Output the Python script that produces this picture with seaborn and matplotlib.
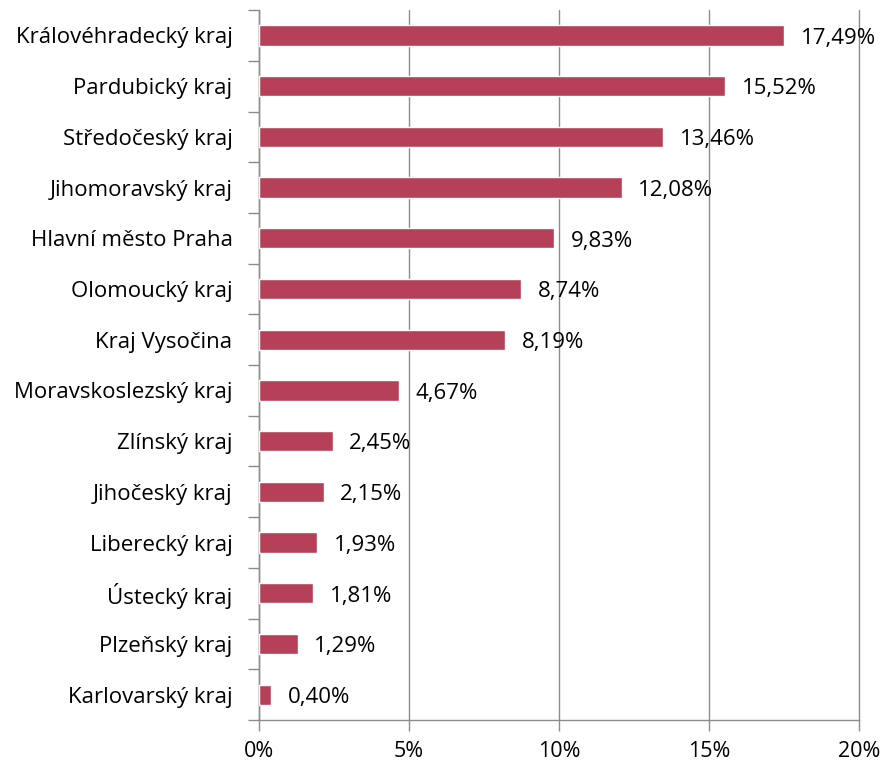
import numpy as np
import pandas as pd
import seaborn as sns
import matplotlib.pyplot as plt
from matplotlib.ticker import FixedLocator, FuncFormatter

regions = [
    "Královéhradecký kraj", "Pardubický kraj", "Středočeský kraj", "Jihomoravský kraj",
    "Hlavní město Praha", "Olomoucký kraj", "Kraj Vysočina", "Moravskoslezský kraj",
    "Zlínský kraj", "Jihočeský kraj", "Liberecký kraj", "Ústecký kraj",
    "Plzeňský kraj", "Karlovarský kraj",
]
shares = [17.49, 15.52, 13.46, 12.08, 9.83, 8.74, 8.19, 4.67, 2.45, 2.15, 1.93, 1.81, 1.29, 0.40]
x_ticks = [0, 5, 10, 15, 20]

df = pd.DataFrame({"region": regions, "share": shares})

sns.set_style("white")
plt.rcParams["font.family"] = ["Open Sans", "DejaVu Sans"]

fig = plt.figure(figsize=(8.84, 7.65), dpi=100)
ax = fig.add_axes([0.293, 0.0588, 0.679, 0.928])

sns.barplot(data=df, x="share", y="region", orient="h", color="#B64058",
            saturation=1, width=0.4, ax=ax, zorder=3)

ax.set_xlim(0, 20)
ax.set_ylim(len(regions) - 0.5, -0.5)
ax.xaxis.set_major_locator(FixedLocator(x_ticks))
ax.xaxis.set_major_formatter(FuncFormatter(lambda v, p: f"{v:.0f}%"))
ax.grid(axis="x", color="#8c8c8c", linewidth=1, zorder=0)
ax.set_axisbelow(True)
for gl in ax.get_xgridlines():
    gl.set_clip_on(False)

for sp in ["top", "right"]:
    ax.spines[sp].set_visible(False)
for sp in ["left", "bottom"]:
    ax.spines[sp].set_color("#8c8c8c")
    ax.spines[sp].set_linewidth(1)

ax.tick_params(axis="x", length=8, width=1, color="#8c8c8c", labelsize=15.5, labelcolor="black",
               pad=7, direction="out", bottom=True)
ax.tick_params(axis="y", which="major", length=0, labelsize=16, labelcolor="black", pad=19)
ax.yaxis.set_minor_locator(FixedLocator(np.arange(-0.5, len(regions), 1)))
ax.tick_params(axis="y", which="minor", length=8, width=1, color="#8c8c8c", left=True, direction="out")
ax.set_xlabel("")
ax.set_ylabel("")

for i, v in enumerate(shares):
    ax.annotate(f"{v:.2f}%".replace(".", ","), (v, i), xytext=(12, -2), textcoords="offset points",
                va="center", ha="left", fontsize=16, color="black", zorder=5)

fig.savefig("out.png", dpi=100)
